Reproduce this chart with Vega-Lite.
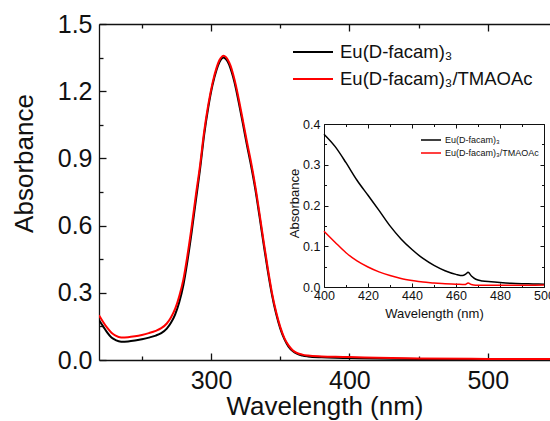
{
  "$schema": "https://vega.github.io/schema/vega-lite/v6.json",
  "width": 451,
  "height": 336,
  "autosize": {"type": "none"},
  "padding": {"left": 99, "top": 24, "right": 0, "bottom": 61},
  "background": "white",
  "config": {
    "view": {"stroke": null},
    "font": "Liberation Sans",
    "axis": {
      "grid": false,
      "domainColor": "#111",
      "tickColor": "#111",
      "labelColor": "#111",
      "titleColor": "#111",
      "labelFont": "Liberation Sans",
      "titleFont": "Liberation Sans",
      "titleFontWeight": "normal",
      "domainWidth": 1.3,
      "tickWidth": 1.3,
      "labelOverlap": false,
      "labelBound": false,
      "labelFlush": false
    },
    "legend": {"labelFont": "Liberation Sans", "labelColor": "#111", "padding": 0, "labelLimit": 400}
  },
  "datasets": {
    "main": [
      {"sample": "Eu(D-facam)\u2083", "nm": 219, "A": 0.178},
      {"sample": "Eu(D-facam)\u2083", "nm": 222, "A": 0.150},
      {"sample": "Eu(D-facam)\u2083", "nm": 225, "A": 0.122},
      {"sample": "Eu(D-facam)\u2083", "nm": 228, "A": 0.100},
      {"sample": "Eu(D-facam)\u2083", "nm": 231, "A": 0.089},
      {"sample": "Eu(D-facam)\u2083", "nm": 235, "A": 0.082},
      {"sample": "Eu(D-facam)\u2083", "nm": 240, "A": 0.083},
      {"sample": "Eu(D-facam)\u2083", "nm": 245, "A": 0.087},
      {"sample": "Eu(D-facam)\u2083", "nm": 250, "A": 0.093},
      {"sample": "Eu(D-facam)\u2083", "nm": 255, "A": 0.100},
      {"sample": "Eu(D-facam)\u2083", "nm": 260, "A": 0.109},
      {"sample": "Eu(D-facam)\u2083", "nm": 264, "A": 0.120},
      {"sample": "Eu(D-facam)\u2083", "nm": 268, "A": 0.140},
      {"sample": "Eu(D-facam)\u2083", "nm": 271, "A": 0.166},
      {"sample": "Eu(D-facam)\u2083", "nm": 274, "A": 0.203},
      {"sample": "Eu(D-facam)\u2083", "nm": 277, "A": 0.258},
      {"sample": "Eu(D-facam)\u2083", "nm": 280, "A": 0.335},
      {"sample": "Eu(D-facam)\u2083", "nm": 283, "A": 0.445},
      {"sample": "Eu(D-facam)\u2083", "nm": 286, "A": 0.572},
      {"sample": "Eu(D-facam)\u2083", "nm": 289, "A": 0.712},
      {"sample": "Eu(D-facam)\u2083", "nm": 292, "A": 0.850},
      {"sample": "Eu(D-facam)\u2083", "nm": 295, "A": 1.005},
      {"sample": "Eu(D-facam)\u2083", "nm": 298, "A": 1.128},
      {"sample": "Eu(D-facam)\u2083", "nm": 301, "A": 1.226},
      {"sample": "Eu(D-facam)\u2083", "nm": 304, "A": 1.296},
      {"sample": "Eu(D-facam)\u2083", "nm": 306, "A": 1.329},
      {"sample": "Eu(D-facam)\u2083", "nm": 308, "A": 1.348},
      {"sample": "Eu(D-facam)\u2083", "nm": 309, "A": 1.350},
      {"sample": "Eu(D-facam)\u2083", "nm": 310, "A": 1.347},
      {"sample": "Eu(D-facam)\u2083", "nm": 312, "A": 1.332},
      {"sample": "Eu(D-facam)\u2083", "nm": 314, "A": 1.303},
      {"sample": "Eu(D-facam)\u2083", "nm": 316, "A": 1.262},
      {"sample": "Eu(D-facam)\u2083", "nm": 318, "A": 1.211},
      {"sample": "Eu(D-facam)\u2083", "nm": 320, "A": 1.150},
      {"sample": "Eu(D-facam)\u2083", "nm": 323, "A": 1.055},
      {"sample": "Eu(D-facam)\u2083", "nm": 326, "A": 0.957},
      {"sample": "Eu(D-facam)\u2083", "nm": 329, "A": 0.865},
      {"sample": "Eu(D-facam)\u2083", "nm": 332, "A": 0.762},
      {"sample": "Eu(D-facam)\u2083", "nm": 335, "A": 0.642},
      {"sample": "Eu(D-facam)\u2083", "nm": 338, "A": 0.517},
      {"sample": "Eu(D-facam)\u2083", "nm": 341, "A": 0.398},
      {"sample": "Eu(D-facam)\u2083", "nm": 344, "A": 0.292},
      {"sample": "Eu(D-facam)\u2083", "nm": 347, "A": 0.207},
      {"sample": "Eu(D-facam)\u2083", "nm": 350, "A": 0.141},
      {"sample": "Eu(D-facam)\u2083", "nm": 353, "A": 0.093},
      {"sample": "Eu(D-facam)\u2083", "nm": 356, "A": 0.060},
      {"sample": "Eu(D-facam)\u2083", "nm": 359, "A": 0.040},
      {"sample": "Eu(D-facam)\u2083", "nm": 362, "A": 0.028},
      {"sample": "Eu(D-facam)\u2083", "nm": 366, "A": 0.020},
      {"sample": "Eu(D-facam)\u2083", "nm": 370, "A": 0.016},
      {"sample": "Eu(D-facam)\u2083", "nm": 380, "A": 0.012},
      {"sample": "Eu(D-facam)\u2083", "nm": 390, "A": 0.010},
      {"sample": "Eu(D-facam)\u2083", "nm": 400, "A": 0.009},
      {"sample": "Eu(D-facam)\u2083", "nm": 420, "A": 0.007},
      {"sample": "Eu(D-facam)\u2083", "nm": 450, "A": 0.005},
      {"sample": "Eu(D-facam)\u2083", "nm": 500, "A": 0.003},
      {"sample": "Eu(D-facam)\u2083", "nm": 545, "A": 0.002},
      {"sample": "Eu(D-facam)\u2083/TMAOAc", "nm": 219, "A": 0.200},
      {"sample": "Eu(D-facam)\u2083/TMAOAc", "nm": 222, "A": 0.170},
      {"sample": "Eu(D-facam)\u2083/TMAOAc", "nm": 225, "A": 0.143},
      {"sample": "Eu(D-facam)\u2083/TMAOAc", "nm": 228, "A": 0.122},
      {"sample": "Eu(D-facam)\u2083/TMAOAc", "nm": 231, "A": 0.109},
      {"sample": "Eu(D-facam)\u2083/TMAOAc", "nm": 235, "A": 0.101},
      {"sample": "Eu(D-facam)\u2083/TMAOAc", "nm": 240, "A": 0.102},
      {"sample": "Eu(D-facam)\u2083/TMAOAc", "nm": 245, "A": 0.106},
      {"sample": "Eu(D-facam)\u2083/TMAOAc", "nm": 250, "A": 0.112},
      {"sample": "Eu(D-facam)\u2083/TMAOAc", "nm": 255, "A": 0.120},
      {"sample": "Eu(D-facam)\u2083/TMAOAc", "nm": 260, "A": 0.130},
      {"sample": "Eu(D-facam)\u2083/TMAOAc", "nm": 264, "A": 0.142},
      {"sample": "Eu(D-facam)\u2083/TMAOAc", "nm": 268, "A": 0.163},
      {"sample": "Eu(D-facam)\u2083/TMAOAc", "nm": 271, "A": 0.190},
      {"sample": "Eu(D-facam)\u2083/TMAOAc", "nm": 274, "A": 0.228},
      {"sample": "Eu(D-facam)\u2083/TMAOAc", "nm": 277, "A": 0.285},
      {"sample": "Eu(D-facam)\u2083/TMAOAc", "nm": 280, "A": 0.360},
      {"sample": "Eu(D-facam)\u2083/TMAOAc", "nm": 283, "A": 0.470},
      {"sample": "Eu(D-facam)\u2083/TMAOAc", "nm": 286, "A": 0.597},
      {"sample": "Eu(D-facam)\u2083/TMAOAc", "nm": 289, "A": 0.735},
      {"sample": "Eu(D-facam)\u2083/TMAOAc", "nm": 292, "A": 0.867},
      {"sample": "Eu(D-facam)\u2083/TMAOAc", "nm": 295, "A": 1.020},
      {"sample": "Eu(D-facam)\u2083/TMAOAc", "nm": 298, "A": 1.140},
      {"sample": "Eu(D-facam)\u2083/TMAOAc", "nm": 301, "A": 1.235},
      {"sample": "Eu(D-facam)\u2083/TMAOAc", "nm": 304, "A": 1.305},
      {"sample": "Eu(D-facam)\u2083/TMAOAc", "nm": 306, "A": 1.338},
      {"sample": "Eu(D-facam)\u2083/TMAOAc", "nm": 308, "A": 1.355},
      {"sample": "Eu(D-facam)\u2083/TMAOAc", "nm": 309, "A": 1.358},
      {"sample": "Eu(D-facam)\u2083/TMAOAc", "nm": 310, "A": 1.356},
      {"sample": "Eu(D-facam)\u2083/TMAOAc", "nm": 312, "A": 1.342},
      {"sample": "Eu(D-facam)\u2083/TMAOAc", "nm": 314, "A": 1.315},
      {"sample": "Eu(D-facam)\u2083/TMAOAc", "nm": 316, "A": 1.275},
      {"sample": "Eu(D-facam)\u2083/TMAOAc", "nm": 318, "A": 1.225},
      {"sample": "Eu(D-facam)\u2083/TMAOAc", "nm": 320, "A": 1.165},
      {"sample": "Eu(D-facam)\u2083/TMAOAc", "nm": 323, "A": 1.070},
      {"sample": "Eu(D-facam)\u2083/TMAOAc", "nm": 326, "A": 0.972},
      {"sample": "Eu(D-facam)\u2083/TMAOAc", "nm": 329, "A": 0.880},
      {"sample": "Eu(D-facam)\u2083/TMAOAc", "nm": 332, "A": 0.775},
      {"sample": "Eu(D-facam)\u2083/TMAOAc", "nm": 335, "A": 0.655},
      {"sample": "Eu(D-facam)\u2083/TMAOAc", "nm": 338, "A": 0.530},
      {"sample": "Eu(D-facam)\u2083/TMAOAc", "nm": 341, "A": 0.410},
      {"sample": "Eu(D-facam)\u2083/TMAOAc", "nm": 344, "A": 0.301},
      {"sample": "Eu(D-facam)\u2083/TMAOAc", "nm": 347, "A": 0.215},
      {"sample": "Eu(D-facam)\u2083/TMAOAc", "nm": 350, "A": 0.148},
      {"sample": "Eu(D-facam)\u2083/TMAOAc", "nm": 353, "A": 0.098},
      {"sample": "Eu(D-facam)\u2083/TMAOAc", "nm": 356, "A": 0.065},
      {"sample": "Eu(D-facam)\u2083/TMAOAc", "nm": 359, "A": 0.044},
      {"sample": "Eu(D-facam)\u2083/TMAOAc", "nm": 362, "A": 0.032},
      {"sample": "Eu(D-facam)\u2083/TMAOAc", "nm": 366, "A": 0.024},
      {"sample": "Eu(D-facam)\u2083/TMAOAc", "nm": 370, "A": 0.020},
      {"sample": "Eu(D-facam)\u2083/TMAOAc", "nm": 380, "A": 0.016},
      {"sample": "Eu(D-facam)\u2083/TMAOAc", "nm": 390, "A": 0.014},
      {"sample": "Eu(D-facam)\u2083/TMAOAc", "nm": 400, "A": 0.013},
      {"sample": "Eu(D-facam)\u2083/TMAOAc", "nm": 420, "A": 0.010},
      {"sample": "Eu(D-facam)\u2083/TMAOAc", "nm": 450, "A": 0.007},
      {"sample": "Eu(D-facam)\u2083/TMAOAc", "nm": 500, "A": 0.005},
      {"sample": "Eu(D-facam)\u2083/TMAOAc", "nm": 545, "A": 0.004}
    ],
    "inset": [
      {"sample": "Eu(D-facam)\u2083", "nm": 400, "A": 0.375},
      {"sample": "Eu(D-facam)\u2083", "nm": 405, "A": 0.345},
      {"sample": "Eu(D-facam)\u2083", "nm": 410, "A": 0.305},
      {"sample": "Eu(D-facam)\u2083", "nm": 415, "A": 0.262},
      {"sample": "Eu(D-facam)\u2083", "nm": 420, "A": 0.225},
      {"sample": "Eu(D-facam)\u2083", "nm": 425, "A": 0.188},
      {"sample": "Eu(D-facam)\u2083", "nm": 430, "A": 0.150},
      {"sample": "Eu(D-facam)\u2083", "nm": 435, "A": 0.118},
      {"sample": "Eu(D-facam)\u2083", "nm": 440, "A": 0.092},
      {"sample": "Eu(D-facam)\u2083", "nm": 445, "A": 0.070},
      {"sample": "Eu(D-facam)\u2083", "nm": 450, "A": 0.053},
      {"sample": "Eu(D-facam)\u2083", "nm": 455, "A": 0.040},
      {"sample": "Eu(D-facam)\u2083", "nm": 460, "A": 0.031},
      {"sample": "Eu(D-facam)\u2083", "nm": 463, "A": 0.028},
      {"sample": "Eu(D-facam)\u2083", "nm": 464.5, "A": 0.032},
      {"sample": "Eu(D-facam)\u2083", "nm": 465.5, "A": 0.036},
      {"sample": "Eu(D-facam)\u2083", "nm": 467, "A": 0.027},
      {"sample": "Eu(D-facam)\u2083", "nm": 469, "A": 0.019},
      {"sample": "Eu(D-facam)\u2083", "nm": 472, "A": 0.015},
      {"sample": "Eu(D-facam)\u2083", "nm": 476, "A": 0.013},
      {"sample": "Eu(D-facam)\u2083", "nm": 480, "A": 0.011},
      {"sample": "Eu(D-facam)\u2083", "nm": 485, "A": 0.009},
      {"sample": "Eu(D-facam)\u2083", "nm": 490, "A": 0.008},
      {"sample": "Eu(D-facam)\u2083", "nm": 495, "A": 0.0075},
      {"sample": "Eu(D-facam)\u2083", "nm": 500, "A": 0.007},
      {"sample": "Eu(D-facam)\u2083/TMAOAc", "nm": 400, "A": 0.137},
      {"sample": "Eu(D-facam)\u2083/TMAOAc", "nm": 405, "A": 0.110},
      {"sample": "Eu(D-facam)\u2083/TMAOAc", "nm": 410, "A": 0.084},
      {"sample": "Eu(D-facam)\u2083/TMAOAc", "nm": 415, "A": 0.064},
      {"sample": "Eu(D-facam)\u2083/TMAOAc", "nm": 420, "A": 0.049},
      {"sample": "Eu(D-facam)\u2083/TMAOAc", "nm": 425, "A": 0.037},
      {"sample": "Eu(D-facam)\u2083/TMAOAc", "nm": 430, "A": 0.028},
      {"sample": "Eu(D-facam)\u2083/TMAOAc", "nm": 435, "A": 0.021},
      {"sample": "Eu(D-facam)\u2083/TMAOAc", "nm": 440, "A": 0.016},
      {"sample": "Eu(D-facam)\u2083/TMAOAc", "nm": 445, "A": 0.012},
      {"sample": "Eu(D-facam)\u2083/TMAOAc", "nm": 450, "A": 0.010},
      {"sample": "Eu(D-facam)\u2083/TMAOAc", "nm": 455, "A": 0.008},
      {"sample": "Eu(D-facam)\u2083/TMAOAc", "nm": 460, "A": 0.007},
      {"sample": "Eu(D-facam)\u2083/TMAOAc", "nm": 464, "A": 0.006},
      {"sample": "Eu(D-facam)\u2083/TMAOAc", "nm": 465.5, "A": 0.0098},
      {"sample": "Eu(D-facam)\u2083/TMAOAc", "nm": 467, "A": 0.006},
      {"sample": "Eu(D-facam)\u2083/TMAOAc", "nm": 469, "A": 0.0042},
      {"sample": "Eu(D-facam)\u2083/TMAOAc", "nm": 475, "A": 0.004},
      {"sample": "Eu(D-facam)\u2083/TMAOAc", "nm": 480, "A": 0.004},
      {"sample": "Eu(D-facam)\u2083/TMAOAc", "nm": 490, "A": 0.0042},
      {"sample": "Eu(D-facam)\u2083/TMAOAc", "nm": 500, "A": 0.0048}
    ]
  },
  "layer": [
    {
      "data": {"name": "main"},
      "layer": [
        {
          "mark": {"type": "line", "strokeWidth": 2, "interpolate": "monotone", "clip": true},
          "encoding": {
            "x": {
              "field": "nm", "type": "quantitative",
              "scale": {"domain": [219, 545], "nice": false, "zero": false},
              "axis": {
                "orient": "bottom",
                "values": [250, 300, 350, 400, 450, 500],
                "labelExpr": "datum.value % 100 === 0 ? datum.label : ''",
                "tickSize": {"condition": {"test": "datum.value % 100 === 0", "value": -7}, "value": -4},
                "labelFontSize": 25,
                "labelPadding": 15,
                "title": "Wavelength (nm)",
                "titleFontSize": 26,
                "titleBaseline": "alphabetic",
                "titleY": 54
              }
            },
            "y": {
              "field": "A", "type": "quantitative",
              "scale": {"domain": [0, 1.5], "nice": false},
              "axis": {
                "orient": "left",
                "values": [0, 0.15, 0.3, 0.45, 0.6, 0.75, 0.9, 1.05, 1.2, 1.35, 1.5],
                "format": ".1f",
                "labelExpr": "round(datum.value * 100) % 30 === 0 ? datum.label : ''",
                "tickSize": {"condition": {"test": "round(datum.value * 100) % 30 === 0", "value": -7}, "value": -4},
                "labelFontSize": 25,
                "labelPadding": 14,
                "title": "Absorbance",
                "titleFontSize": 26,
                "titleBaseline": "alphabetic",
                "titleAlign": "center",
                "titleX": -67,
                "titleY": 139
              }
            },
            "color": {
              "field": "sample", "type": "nominal",
              "scale": {"domain": ["Eu(D-facam)\u2083", "Eu(D-facam)\u2083/TMAOAc"], "range": ["#000000", "#ff0000"]},
              "legend": {
                "orient": "none",
                "legendX": 203,
                "legendY": 17,
                "title": null,
                "symbolType": "M-2,0H2",
                "symbolSize": 400,
                "symbolStrokeWidth": 2,
                "labelFontSize": 18.5,
                "labelOffset": 16,
                "rowPadding": 6
              }
            }
          }
        },
        {
          "mark": {"type": "line", "opacity": 0},
          "encoding": {
            "x": {
              "field": "nm", "type": "quantitative",
              "axis": {
                "orient": "top",
                "values": [250, 300, 350, 400, 450, 500],
                "labels": false,
                "title": null,
                "tickSize": {"condition": {"test": "datum.value % 100 === 0", "value": -7}, "value": -4}
              }
            },
            "y": {"field": "A", "type": "quantitative", "axis": null}
          }
        }
      ],
      "resolve": {"axis": {"x": "independent", "y": "independent"}}
    },
    {
      "data": {"name": "inset"},
      "layer": [
        {
          "mark": {"type": "line", "strokeWidth": 1.5, "interpolate": "monotone", "clip": true},
          "encoding": {
            "x": {
              "field": "nm", "type": "quantitative",
              "scale": {"domain": [400, 500], "nice": false, "zero": false, "range": [225, 445]},
              "axis": {
                "orient": "bottom",
                "offset": -73,
                "values": [400, 410, 420, 430, 440, 450, 460, 470, 480, 490, 500],
                "labelExpr": "datum.value % 20 === 0 ? datum.label : ''",
                "tickSize": {"condition": {"test": "datum.value % 20 === 0", "value": -4}, "value": -2.5},
                "tickWidth": 1,
                "domainWidth": 1,
                "labelFontSize": 12.5,
                "labelPadding": 6,
                "title": "Wavelength (nm)",
                "titleFontSize": 13,
                "titleBaseline": "alphabetic",
                "titleY": 30
              }
            },
            "y": {
              "field": "A", "type": "quantitative",
              "scale": {"domain": [0, 0.4], "nice": false, "range": [263, 100]},
              "axis": {
                "orient": "left",
                "offset": -225,
                "values": [0, 0.05, 0.1, 0.15, 0.2, 0.25, 0.3, 0.35, 0.4],
                "format": ".1f",
                "labelExpr": "round(datum.value * 100) % 10 === 0 ? datum.label : ''",
                "tickSize": {"condition": {"test": "round(datum.value * 100) % 10 === 0", "value": -4}, "value": -2.5},
                "tickWidth": 1,
                "domainWidth": 1,
                "labelFontSize": 12.5,
                "labelPadding": 8,
                "title": "Absorbance",
                "titleFontSize": 13,
                "titleBaseline": "alphabetic",
                "titleAlign": "center",
                "titleX": -26,
                "titleY": 179
              }
            },
            "color": {
              "field": "sample", "type": "nominal",
              "scale": {"domain": ["Eu(D-facam)\u2083", "Eu(D-facam)\u2083/TMAOAc"], "range": ["#000000", "#ff0000"]},
              "legend": {
                "orient": "none",
                "legendX": 326,
                "legendY": 110,
                "title": null,
                "symbolType": "M-2,0H2",
                "symbolSize": 100,
                "symbolStrokeWidth": 1.5,
                "labelFontSize": 9,
                "labelOffset": 8,
                "rowPadding": 2
              }
            }
          }
        },
        {
          "mark": {"type": "line", "opacity": 0},
          "encoding": {
            "x": {
              "field": "nm", "type": "quantitative",
              "axis": {
                "orient": "top",
                "offset": -100,
                "values": [400, 410, 420, 430, 440, 450, 460, 470, 480, 490, 500],
                "labels": false,
                "title": null,
                "tickWidth": 1,
                "domainWidth": 1,
                "tickSize": {"condition": {"test": "datum.value % 20 === 0", "value": -4}, "value": -2.5}
              }
            },
            "y": {
              "field": "A", "type": "quantitative",
              "axis": {
                "orient": "right",
                "offset": -6,
                "values": [0, 0.05, 0.1, 0.15, 0.2, 0.25, 0.3, 0.35, 0.4],
                "labels": false,
                "title": null,
                "tickWidth": 1,
                "domainWidth": 1,
                "tickSize": {"condition": {"test": "round(datum.value * 100) % 10 === 0", "value": -4}, "value": -2.5}
              }
            }
          }
        }
      ],
      "resolve": {"axis": {"x": "independent", "y": "independent"}}
    }
  ],
  "resolve": {
    "scale": {"x": "independent", "y": "independent", "color": "independent"},
    "axis": {"x": "independent", "y": "independent"},
    "legend": {"color": "independent"}
  }
}
